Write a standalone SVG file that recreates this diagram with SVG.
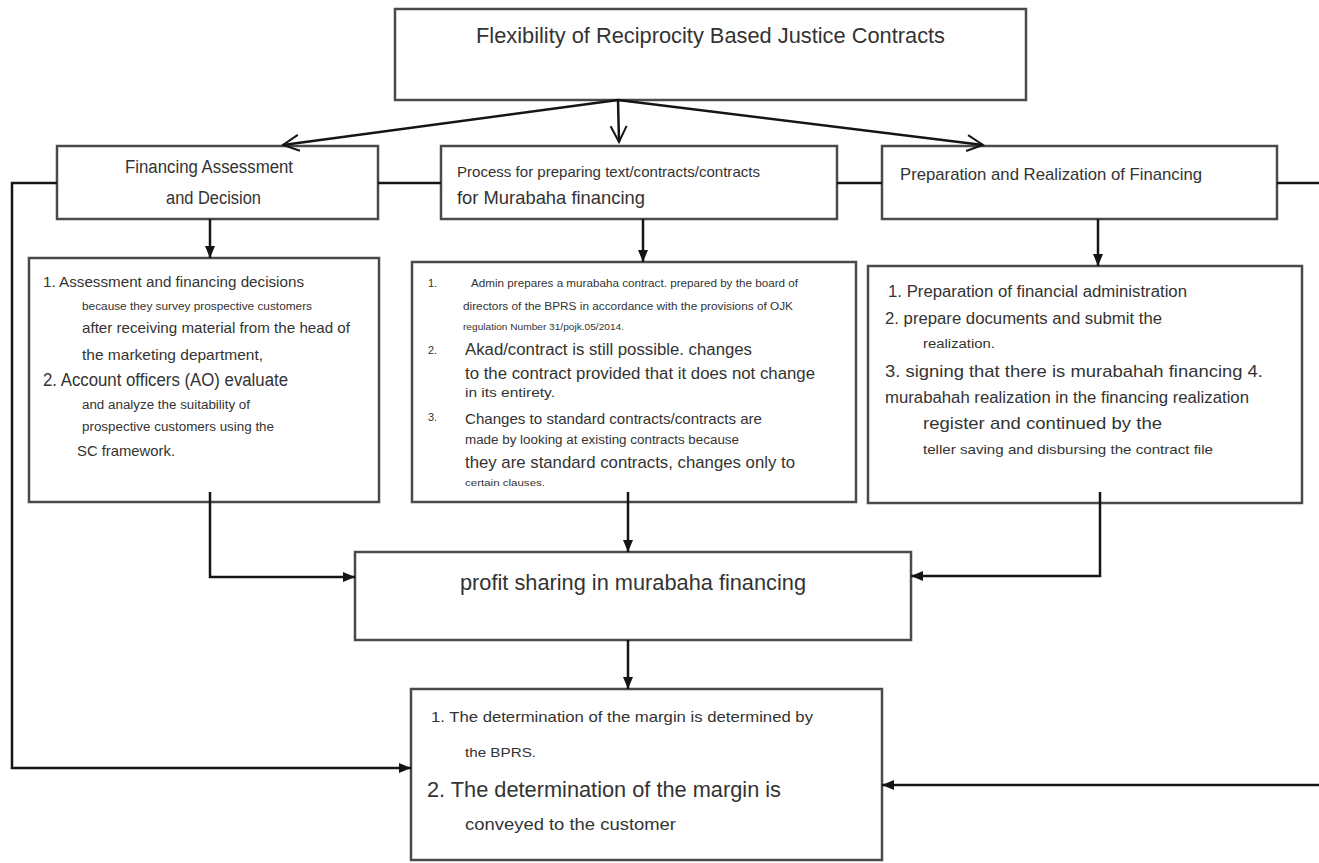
<svg xmlns="http://www.w3.org/2000/svg" width="1319" height="863" viewBox="0 0 1319 863">
<style>
.box{fill:#fff;stroke:#4a4a4a;stroke-width:2.5}
.c{fill:none;stroke:#151515;stroke-width:2.5}
.t{font-family:"Liberation Sans",Arial,sans-serif;fill:#333}
</style>
<defs>
<marker id="fa" viewBox="0 0 12 10" refX="12" refY="5" markerWidth="12" markerHeight="10" markerUnits="userSpaceOnUse" orient="auto" overflow="visible">
<path d="M0,0 L12,5 L0,10 z" fill="#151515"/>
</marker>
<marker id="oa" viewBox="0 0 18 18" refX="17" refY="9" markerWidth="18" markerHeight="18" markerUnits="userSpaceOnUse" orient="auto" overflow="visible">
<path d="M1,1 L17,9 L1,17" fill="none" stroke="#151515" stroke-width="2"/>
</marker>
</defs>
<rect width="1319" height="863" fill="#fff"/>
<g id="title">
<rect class="box" x="395" y="9" width="631" height="91"/>
<text class="t" x="476" y="43" font-size="22" textLength="469" lengthAdjust="spacingAndGlyphs">Flexibility of Reciprocity Based Justice Contracts</text>
</g>
<g id="h1">
<rect class="box" x="57" y="146" width="321" height="73"/>
<text class="t" x="125" y="173" font-size="18" textLength="168" lengthAdjust="spacingAndGlyphs">Financing Assessment</text>
<text class="t" x="166" y="204" font-size="18" textLength="95" lengthAdjust="spacingAndGlyphs">and Decision</text>
</g>
<g id="h2">
<rect class="box" x="441" y="146" width="396" height="73"/>
<text class="t" x="457" y="177" font-size="15" textLength="303" lengthAdjust="spacingAndGlyphs">Process for preparing text/contracts/contracts</text>
<text class="t" x="457" y="204" font-size="19" textLength="188" lengthAdjust="spacingAndGlyphs">for Murabaha financing</text>
</g>
<g id="h3">
<rect class="box" x="882" y="146" width="395" height="73"/>
<text class="t" x="900" y="180" font-size="17" textLength="302" lengthAdjust="spacingAndGlyphs">Preparation and Realization of Financing</text>
</g>
<g id="b1">
<rect class="box" x="29" y="258" width="350" height="244"/>
<text class="t" x="43" y="287" font-size="14" textLength="261" lengthAdjust="spacingAndGlyphs">1. Assessment and financing decisions</text>
<text class="t" x="82" y="310" font-size="11" textLength="230" lengthAdjust="spacingAndGlyphs">because they survey prospective customers</text>
<text class="t" x="82" y="333" font-size="15" textLength="268" lengthAdjust="spacingAndGlyphs">after receiving material from the head of</text>
<text class="t" x="82" y="360" font-size="15" textLength="181" lengthAdjust="spacingAndGlyphs">the marketing department,</text>
<text class="t" x="43" y="386" font-size="18" textLength="245" lengthAdjust="spacingAndGlyphs">2. Account officers (AO) evaluate</text>
<text class="t" x="82" y="409" font-size="12" textLength="168" lengthAdjust="spacingAndGlyphs">and analyze the suitability of</text>
<text class="t" x="82" y="431" font-size="12.5" textLength="192" lengthAdjust="spacingAndGlyphs">prospective customers using the</text>
<text class="t" x="77" y="456" font-size="15" textLength="98" lengthAdjust="spacingAndGlyphs">SC framework.</text>
</g>
<g id="b2">
<rect class="box" x="412" y="262" width="444" height="240"/>
<text class="t" x="428" y="287" font-size="11">1.</text>
<text class="t" x="471" y="287" font-size="10" textLength="327" lengthAdjust="spacingAndGlyphs">Admin prepares a murabaha contract. prepared by the board of</text>
<text class="t" x="463" y="310" font-size="10" textLength="330" lengthAdjust="spacingAndGlyphs">directors of the BPRS in accordance with the provisions of OJK</text>
<text class="t" x="463" y="330" font-size="8.5" textLength="161" lengthAdjust="spacingAndGlyphs">regulation Number 31/pojk.05/2014.</text>
<text class="t" x="428" y="354" font-size="11">2.</text>
<text class="t" x="465" y="355" font-size="16" textLength="287" lengthAdjust="spacingAndGlyphs">Akad/contract is still possible. changes</text>
<text class="t" x="465" y="379" font-size="16" textLength="350" lengthAdjust="spacingAndGlyphs">to the contract provided that it does not change</text>
<text class="t" x="465" y="397" font-size="13" textLength="90" lengthAdjust="spacingAndGlyphs">in its entirety.</text>
<text class="t" x="428" y="421" font-size="11">3.</text>
<text class="t" x="465" y="424" font-size="15" textLength="297" lengthAdjust="spacingAndGlyphs">Changes to standard contracts/contracts are</text>
<text class="t" x="465" y="444" font-size="12.5" textLength="274" lengthAdjust="spacingAndGlyphs">made by looking at existing contracts because</text>
<text class="t" x="465" y="468" font-size="17" textLength="330" lengthAdjust="spacingAndGlyphs">they are standard contracts, changes only to</text>
<text class="t" x="465" y="486" font-size="9.5" textLength="80" lengthAdjust="spacingAndGlyphs">certain clauses.</text>
</g>
<g id="b3">
<rect class="box" x="868" y="266" width="434" height="237"/>
<text class="t" x="888" y="297" font-size="16" textLength="299" lengthAdjust="spacingAndGlyphs">1. Preparation of financial administration</text>
<text class="t" x="885" y="324" font-size="16" textLength="277" lengthAdjust="spacingAndGlyphs">2. prepare documents and submit the</text>
<text class="t" x="923" y="348" font-size="12" textLength="72" lengthAdjust="spacingAndGlyphs">realization.</text>
<text class="t" x="885" y="377" font-size="17" textLength="378" lengthAdjust="spacingAndGlyphs">3. signing that there is murabahah financing 4.</text>
<text class="t" x="885" y="403" font-size="16" textLength="364" lengthAdjust="spacingAndGlyphs">murabahah realization in the financing realization</text>
<text class="t" x="923" y="429" font-size="17" textLength="239" lengthAdjust="spacingAndGlyphs">register and continued by the</text>
<text class="t" x="923" y="454" font-size="13" textLength="290" lengthAdjust="spacingAndGlyphs">teller saving and disbursing the contract file</text>
</g>
<g id="profit">
<rect class="box" x="355" y="552" width="556" height="88"/>
<text class="t" x="460" y="590" font-size="22" textLength="346" lengthAdjust="spacingAndGlyphs">profit sharing in murabaha financing</text>
</g>
<g id="margin">
<rect class="box" x="411" y="689" width="471" height="171"/>
<text class="t" x="431" y="722" font-size="15" textLength="382" lengthAdjust="spacingAndGlyphs">1. The determination of the margin is determined by</text>
<text class="t" x="465" y="757" font-size="13" textLength="71" lengthAdjust="spacingAndGlyphs">the BPRS.</text>
<text class="t" x="427" y="797" font-size="22" textLength="354" lengthAdjust="spacingAndGlyphs">2. The determination of the margin is</text>
<text class="t" x="465" y="830" font-size="16" textLength="211" lengthAdjust="spacingAndGlyphs">conveyed to the customer</text>
</g>
<g id="connectors">
<path class="c" d="M618,100 L283,145" marker-end="url(#oa)"/>
<path class="c" d="M618,100 L619,142" marker-end="url(#oa)"/>
<path class="c" d="M618,100 L983,145" marker-end="url(#oa)"/>
<path class="c" d="M57,183 H12 V768 H411" marker-end="url(#fa)"/>
<path class="c" d="M378,183 H441"/>
<path class="c" d="M837,183 H882"/>
<path class="c" d="M1277,183 H1319"/>
<path class="c" d="M1319,785 H882" marker-end="url(#fa)"/>
<path class="c" d="M210,219 V258" marker-end="url(#fa)"/>
<path class="c" d="M643,219 V262" marker-end="url(#fa)"/>
<path class="c" d="M1098,219 V266" marker-end="url(#fa)"/>
<path class="c" d="M210,492 V577 H355" marker-end="url(#fa)"/>
<path class="c" d="M628,492 V552" marker-end="url(#fa)"/>
<path class="c" d="M1100,492 V576 H911" marker-end="url(#fa)"/>
<path class="c" d="M628,640 V689" marker-end="url(#fa)"/>
</g>
</svg>
